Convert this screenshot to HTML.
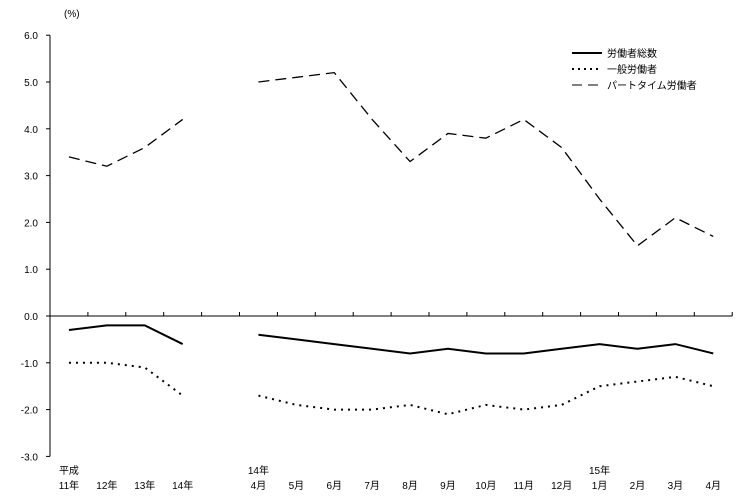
<!DOCTYPE html>
<html><head><meta charset="utf-8"><style>
body{margin:0;background:#fff}
svg text{font-family:"Liberation Sans","Noto Sans CJK JP",sans-serif;font-size:10px;fill:#000}
</style></head><body>
<svg width="746" height="496">
<g id="axes"></g><g id="series"></g>
<g>
<line x1="572" y1="53" x2="602" y2="53" stroke="#000" stroke-width="2"/>
<text x="607" y="57">労働者総数</text>
<line x1="572" y1="69" x2="602" y2="69" stroke="#000" stroke-width="2" stroke-dasharray="2,4"/>
<text x="607" y="73">一般労働者</text>
<line x1="572" y1="85" x2="602" y2="85" stroke="#000" stroke-width="1" stroke-dasharray="10,6"/>
<text x="607" y="89">パートタイム労働者</text>
</g>
<text x="64" y="17">(%)</text>
</svg>
<script>
const cats1=["11年","12年","13年","14年"];
const cats2=["4月","5月","6月","7月","8月","9月","10月","11月","12月","1月","2月","3月","4月"];
const total1=[-0.3,-0.2,-0.2,-0.6];
const total2=[-0.4,-0.5,-0.6,-0.7,-0.8,-0.7,-0.8,-0.8,-0.7,-0.6,-0.7,-0.6,-0.8];
const general1=[-1.0,-1.0,-1.1,-1.7];
const general2=[-1.7,-1.9,-2.0,-2.0,-1.9,-2.1,-1.9,-2.0,-1.9,-1.5,-1.4,-1.3,-1.5];
const part1=[3.4,3.2,3.6,4.2];
const part2=[5.0,5.1,5.2,4.2,3.3,3.9,3.8,4.2,3.6,2.5,1.5,2.1,1.7];
const yTicks=[6,5,4,3,2,1,0,-1,-2,-3];
const NS="http://www.w3.org/2000/svg";
const x0=50,slot=37.9,nSlots=18;
function X(i){return x0+slot*(i+0.5);}
function Y(v){return 316-v*46.8;}
function mk(t,a,p){const e=document.createElementNS(NS,t);for(const k in a)e.setAttribute(k,a[k]);p.appendChild(e);return e;}
const ax=document.getElementById('axes'),se=document.getElementById('series');
let l=mk('line',{x1:x0,y1:Y(6),x2:x0,y2:Y(-3),stroke:'#000'},ax);


l=mk('line',{x1:x0,y1:Y(0),x2:x0+slot*nSlots,y2:Y(0),stroke:'#000'},ax);


yTicks.forEach(v=>{mk('line',{x1:x0-4,y1:Y(v),x2:x0,y2:Y(v),stroke:'#000'},ax);
const t=mk('text',{x:38,y:Y(v)+4,'text-anchor':'end'},ax);t.textContent=v.toFixed(1);

});
for(let i=1;i<=nSlots;i++)mk('line',{x1:x0+slot*i,y1:Y(0)-4,x2:x0+slot*i,y2:Y(0),stroke:'#000'},ax);
function lab(txt,i,y){const t=mk('text',{x:X(i),y:y,'text-anchor':'middle'},ax);t.textContent=txt;

}
cats1.forEach((c,i)=>lab(c,i,489));
cats2.forEach((c,i)=>lab(c,i+5,489));
lab("平成",0,474);lab("14年",5,474);lab("15年",14,474);
function line(vals,off,style,name){const pts=vals.map((v,i)=>X(i+off)+','+Y(v)).join(' ');
const p=mk('polyline',Object.assign({points:pts,fill:'none',stroke:'#000'},style),se);

}
const sTot={'stroke-width':2},sGen={'stroke-width':2,'stroke-dasharray':'2,5'},sPart={'stroke-width':1.3,'stroke-dasharray':'11,6'};
line(total1,0,sTot,'series-total-annual');line(total2,5,sTot,'series-total-monthly');
line(general1,0,sGen,'series-general-annual');line(general2,5,sGen,'series-general-monthly');
line(part1,0,sPart,'series-part-annual');line(part2,5,sPart,'series-part-monthly');
</script>
</body></html>
